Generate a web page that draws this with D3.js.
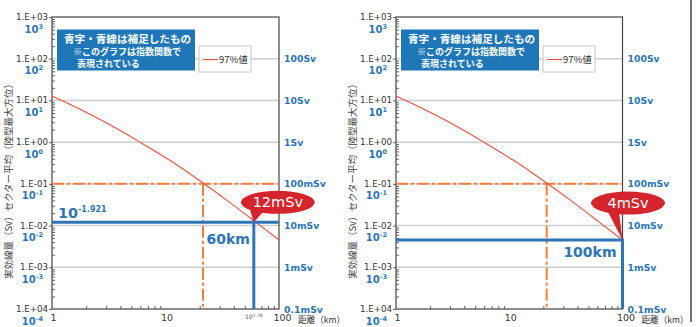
<!DOCTYPE html>
<html>
<head>
<meta charset="utf-8">
<script src="https://cdn.jsdelivr.net/npm/d3@7"></script>
<style>
  body { margin: 0; background: #fff; }
  svg { display: block; font-family: "DejaVu Sans", sans-serif; }
  .jp { font-family: "Noto Sans CJK JP", sans-serif; }
</style>
</head>
<body>
<script>
// data
var distanceKm = [1, 1.77, 3.24, 5.96, 11, 21.4, 37, 63.6, 100];
var dose97 = [12.8, 6.15, 2.6, 1.0, 0.362, 0.1045, 0.0356, 0.0116, 0.0045];
var decades = [1e3, 1e2, 1e1, 1, 1e-1, 1e-2, 1e-3, 1e-4];
var decadeLabels = ["1.E+03", "1.E+02", "1.E+01", "1.E+00", "1.E-01", "1.E-02", "1.E-03", "1.E+04"];
var decadeExps = ["3", "2", "1", "0", "-1", "-2", "-3", "-4"];
var sievertLabels = ["", "100Sv", "10Sv", "1Sv", "100mSv", "10mSv", "1mSv", "0.1mSv"];
var xTicks = [1, 10, 100];
var refDose = 0.1;      // orange line
var refDistance = 21.4; // where the curve reaches 0.1 Sv
var markDistance = [60, 100];
var markDose = [Math.pow(10, -1.921), 0.0045];
var markText = ["60km", "100km"];
var bubbleText = ["12mSv", "4mSv"];

var W = 696, H = 327;
var plotTop = 17, plotBottom = 309;
var blue = "#2e75b6", orange = "#f47c3c", red = "#f04e3e";

var svg = d3.select("body").append("svg")
    .attr("width", W).attr("height", H);

var panels = [
  {left: 52, right: 279, lab: {dx: -4, dy: 22}, bub: {dx: 24, dy: -20, t0: -28, t1: -14}, exp: true},
  {left: 396, right: 622.5, lab: {dx: -6, dy: 17}, bub: {dx: 5.5, dy: -37, t0: -21, t1: -9}, exp: false}
];

var minorX = [];
[1, 10].forEach(function(d) { for (var k = 2; k < 10; k++) minorX.push(d * k); });
var minorY = [];
[1e-4, 1e-3, 1e-2, 1e-1, 1, 10, 100].forEach(function(d) { for (var k = 2; k < 10; k++) minorY.push(d * k); });

panels.forEach(function(p, i) {
  var g = svg.append("g");
  var x = d3.scaleLog().domain([1, 100]).range([p.left, p.right]);
  var y = d3.scaleLog().domain([1e-4, 1e3]).range([plotBottom, plotTop]);

  // gridlines
  g.selectAll(".grid")
    .data(decades.slice(1, 7))
    .enter().append("line")
      .attr("x1", p.left).attr("x2", p.right)
      .attr("y1", function(d) { return y(d); })
      .attr("y2", function(d) { return y(d); })
      .attr("stroke", "#cdcdcd")
      .attr("stroke-width", 1.5);

  // minor ticks, inside the frame
  g.append("g")
    .attr("transform", "translate(" + p.left + ",0)")
    .call(d3.axisRight(y).tickValues(minorY).tickSize(3).tickFormat(""))
    .call(function(a) { a.select(".domain").remove(); })
    .selectAll("line").attr("stroke", "#666");
  g.append("g")
    .attr("transform", "translate(" + p.left + ",0)")
    .call(d3.axisLeft(y).tickValues(decades).tickSize(3).tickFormat(""))
    .call(function(a) { a.select(".domain").remove(); })
    .selectAll("line").attr("stroke", "#666");
  g.append("g")
    .attr("transform", "translate(0," + plotBottom + ")")
    .call(d3.axisTop(x).tickValues(minorX).tickSize(3).tickFormat(""))
    .call(function(a) { a.select(".domain").remove(); })
    .selectAll("line").attr("stroke", "#666");

  // frame
  g.append("rect")
    .attr("x", p.left).attr("y", plotTop)
    .attr("width", p.right - p.left).attr("height", plotBottom - plotTop)
    .attr("fill", "none").attr("stroke", "#444").attr("stroke-width", 1.2);

  // x labels
  g.append("g")
    .attr("transform", "translate(0," + (plotBottom + 2) + ")")
    .call(d3.axisBottom(x).tickValues(xTicks).tickSize(0).tickFormat(d3.format("d")))
    .call(function(a) { a.select(".domain").remove(); })
    .selectAll("text")
      .attr("font-family", "DejaVu Sans")
      .attr("font-size", 9.5).attr("fill", "#333")
      .attr("dx", function(d) { return d == 100 ? 3 : 1; });
  g.append("text").attr("class", "jp")
    .attr("x", p.right + 19).attr("y", plotBottom + 14)
    .attr("font-size", 8.6).attr("fill", "#333")
    .text("距離（km）");

  // left labels
  decades.forEach(function(d, k) {
    g.append("text")
      .attr("x", p.left - 4).attr("y", y(d) + 3)
      .attr("text-anchor", "end")
      .attr("font-size", 8.7).attr("fill", "#333")
      .text(decadeLabels[k]);
    var t = g.append("text")
      .attr("x", p.left - 9).attr("y", y(d) + 15.5)
      .attr("text-anchor", "end")
      .attr("font-size", 10).attr("font-weight", "bold").attr("fill", blue);
    t.append("tspan").text("10");
    t.append("tspan").attr("dy", -4).attr("font-size", 6.5).text(decadeExps[k]);
  });

  // right labels
  decades.forEach(function(d, k) {
    if (!sievertLabels[k]) return;
    g.append("text")
      .attr("x", p.right + 5).attr("y", y(d) + 3.5)
      .attr("font-size", 9.3).attr("font-weight", "bold").attr("fill", blue)
      .text(sievertLabels[k]);
  });

  // y title
  g.append("text").attr("class", "jp")
    .attr("transform", "translate(" + (p.left - 44) + ",179) rotate(-90)")
    .attr("text-anchor", "middle").attr("dominant-baseline", "central")
    .attr("font-size", 9.5).attr("fill", "#444")
    .text("実効線量（Sv）セクター平均（陸型最大方位）");

  // orange reference lines
  g.append("line")
    .attr("x1", p.left).attr("x2", p.right)
    .attr("y1", y(refDose)).attr("y2", y(refDose))
    .attr("stroke", orange).attr("stroke-width", 2).attr("stroke-dasharray", "12,3,3,3");
  g.append("line")
    .attr("x1", x(refDistance)).attr("x2", x(refDistance))
    .attr("y1", y(refDose)).attr("y2", plotBottom)
    .attr("stroke", orange).attr("stroke-width", 2).attr("stroke-dasharray", "12,3,3,3");

  // curve
  var line = d3.line()
    .x(function(d) { return x(d[0]); })
    .y(function(d) { return y(d[1]); })
    .curve(d3.curveMonotoneX);
  g.append("path")
    .datum(d3.zip(distanceKm, dose97))
    .attr("d", line)
    .attr("fill", "none").attr("stroke", red).attr("stroke-width", 1.1);

  // blue supplementary lines
  var mx = x(markDistance[i]), my = y(markDose[i]);
  g.append("line")
    .attr("x1", p.left).attr("x2", p.right)
    .attr("y1", my).attr("y2", my)
    .attr("stroke", blue).attr("stroke-width", 3);
  g.append("line")
    .attr("x1", mx).attr("x2", mx)
    .attr("y1", my - 1.5).attr("y2", plotBottom)
    .attr("stroke", blue).attr("stroke-width", 3);

  g.append("text")
    .attr("x", mx + p.lab.dx).attr("y", my + p.lab.dy)
    .attr("text-anchor", "end")
    .attr("font-size", 14).attr("font-weight", "bold").attr("fill", blue)
    .text(markText[i]);

  if (p.exp) {
    var e = g.append("text")
      .attr("x", p.left + 6).attr("y", my - 4)
      .attr("font-size", 14.4).attr("font-weight", "bold").attr("fill", blue);
    e.append("tspan").text("10");
    e.append("tspan").attr("dy", -6).attr("font-size", 8).text("-1.921");

    var s = g.append("text")
      .attr("x", mx).attr("y", plotBottom + 10)
      .attr("text-anchor", "middle")
      .attr("font-size", 6).attr("fill", "#555");
    s.append("tspan").text("10");
    s.append("tspan").attr("dy", -2.5).attr("font-size", 4.5).text("1.78");
  }

  // info box
  var bx = p.left + 5, by = 29.5;
  g.append("rect")
    .attr("x", bx).attr("y", by).attr("width", 138).attr("height", 41)
    .attr("fill", "#1f77b8");
  g.append("text").attr("class", "jp")
    .attr("x", bx + 7).attr("y", by + 13.5)
    .attr("font-size", 10.6).attr("font-weight", "bold").attr("fill", "#fff")
    .text("青字・青線は補足したもの");
  g.append("text").attr("class", "jp")
    .attr("x", bx + 16).attr("y", by + 25.5)
    .attr("font-size", 9).attr("font-weight", "bold").attr("fill", "#fff")
    .text("※このグラフは指数関数で");
  g.append("text").attr("class", "jp")
    .attr("x", bx + 20).attr("y", by + 37)
    .attr("font-size", 9).attr("font-weight", "bold").attr("fill", "#fff")
    .text("表現されている");

  // legend
  var lx = p.left + 147, ly = 46;
  g.append("rect")
    .attr("x", lx).attr("y", ly).attr("width", 52).attr("height", 26)
    .attr("fill", "#fff").attr("stroke", "#c4c4c4");
  g.append("line")
    .attr("x1", lx + 4).attr("x2", lx + 19)
    .attr("y1", ly + 13.5).attr("y2", ly + 13.5)
    .attr("stroke", red).attr("stroke-width", 1.1);
  g.append("text").attr("class", "jp")
    .attr("x", lx + 20).attr("y", ly + 17)
    .attr("font-size", 9.5).attr("fill", "#333")
    .text("97%値");

  // bubble
  var cx = mx + p.bub.dx, cy = my + p.bub.dy;
  g.append("path")
    .attr("d", "M" + (cx + p.bub.t0) + "," + (cy + 7) +
      "L" + mx + "," + my +
      "L" + (cx + p.bub.t1) + "," + (cy + 9) + "Z")
    .attr("fill", "#d4252c");
  g.append("ellipse")
    .attr("cx", cx).attr("cy", cy).attr("rx", 37).attr("ry", 11.5)
    .attr("fill", "#d4252c");
  g.append("text")
    .attr("x", cx).attr("y", cy + 5)
    .attr("text-anchor", "middle")
    .attr("font-size", 14.5).attr("fill", "#fff")
    .text(bubbleText[i]);
});

// page edge line at the right
svg.append("line")
  .attr("x1", 691).attr("x2", 691).attr("y1", 0).attr("y2", 322)
  .attr("stroke", "#4e4038").attr("stroke-width", 1.5);
</script>
</body>
</html>
